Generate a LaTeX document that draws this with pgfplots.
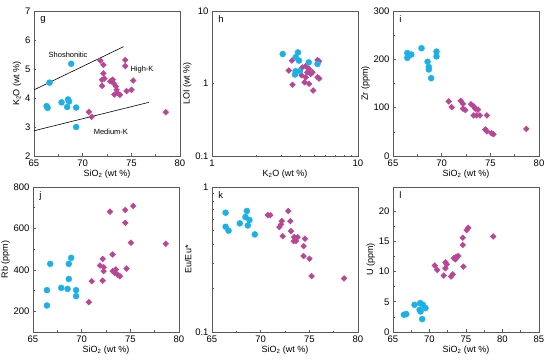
\documentclass[border=0pt]{standalone}
\usepackage{fontspec}
\setmainfont{Liberation Sans}
\usepackage{pgfplots}
\pgfplotsset{compat=1.18}
\definecolor{cblue}{RGB}{27,177,231}
\definecolor{cmag}{RGB}{184,69,150}
\definecolor{frame}{RGB}{90,90,90}
\pgfplotsset{
  panel/.style={
    scale only axis, width=146pt, height=145pt,
    anchor=south west,
    axis line style={frame, line width=0.8pt},
    tick style={frame, line width=0.6pt},
    major tick length=2.5pt, minor tick length=1.5pt,
    xtick pos=bottom, ytick pos=left,
    tick align=inside,
    /pgf/number format/assume math mode=true,
    ticklabel style={font=\fontsize{9.5}{10}\selectfont, text=black},
    label style={font=\fontsize{9}{10}\selectfont},
    xlabel style={yshift=3pt},
    ylabel style={yshift=-3pt},
    clip=false,
  },
  blue/.style={only marks, mark=*, mark size=3pt, mark options={draw=cblue, fill=cblue}},
  mag/.style={only marks, mark=square*, mark size=2.05pt, mark options={draw=cmag, fill=cmag, rotate=45}},
}
\newcommand{\panellabel}[1]{\node[anchor=north west, font=\fontsize{9.5}{10}\selectfont] at (rel axis cs:0.02,0.99) {#1};}
\begin{document}
\begin{tikzpicture}
\path[use as bounding box] (0,0) rectangle (550pt,362pt);

% g
\begin{axis}[panel, at={(34pt,206pt)}, xmin=65, xmax=80, ymin=2, ymax=7,
  xtick={65,70,75,80}, ytick={2,3,4,5,6,7}, minor x tick num=1,
  xlabel={SiO\textsubscript{2} (wt \%)}, ylabel={K\textsubscript{2}O (wt \%)}]
\addplot[black, line width=0.6pt] coordinates {(65,4.28) (74.2,5.77)};
\addplot[black, line width=0.6pt] coordinates {(65,2.87) (76.8,3.85)};
\addplot[blue] coordinates {(66.6,4.53) (68.82,5.18) (66.3,3.72) (66.4,3.66) (67.83,3.85) (68.5,3.95) (68.6,3.88) (68.41,3.69) (69.33,3.67) (69.33,3.0)};
\addplot[mag] coordinates {(71.82,5.29) (72.13,5.14) (72.13,4.85) (72.23,4.67) (71.99,4.63) (71.99,4.42) (72.84,4.58) (73.08,4.63) (73.18,4.51) (73.42,4.40) (73.49,4.28) (73.59,4.17) (73.25,4.12) (73.83,4.11) (74.38,5.31) (74.38,5.10) (74.51,4.24) (75.02,4.28) (75.19,4.60) (70.63,3.52) (70.93,3.35) (78.54,3.51)};
\node[font=\fontsize{7.5}{9}\selectfont] at (axis cs:68.5,5.49) {Shoshonitic};
\node[font=\fontsize{7.5}{9}\selectfont] at (axis cs:76.1,4.97) {High-K};
\node[font=\fontsize{7.5}{9}\selectfont] at (axis cs:72.9,2.83) {Medium-K};
\panellabel{g}
\end{axis}

% h
\begin{axis}[panel, at={(212pt,206pt)}, xmode=log, ymode=log, xmin=1, xmax=10, ymin=0.1, ymax=10,
  xtick={1,10}, xticklabels={1,10}, ytick={0.1,1,10}, yticklabels={0.1,1,10},
  xlabel={K\textsubscript{2}O (wt \%)}, ylabel={LOI (wt \%)}]
\addplot[mag] coordinates {(3.53,2.07) (3.36,1.51) (3.56,0.96) (4.16,1.67) (4.38,1.73) (4.62,1.59) (4.50,1.43) (4.75,1.36) (4.38,1.22) (4.31,1.04) (4.62,0.99) (4.93,0.80) (5.28,2.11) (5.42,2.02) (5.28,1.22) (5.42,1.17) (4.88,1.43) (4.1,1.3)};
\addplot[blue] coordinates {(3.05,2.55) (3.88,2.68) (3.74,2.30) (3.94,2.07) (4.60,1.96) (5.28,1.86) (3.74,1.48) (3.70,1.33) (4.0,1.48)};
\panellabel{h}
\end{axis}

% i
\begin{axis}[panel, at={(393pt,206pt)}, xmin=65, xmax=80, ymin=0, ymax=300,
  xtick={65,70,75,80}, ytick={0,100,200,300}, minor x tick num=1, minor y tick num=1,
  xlabel={SiO\textsubscript{2} (wt \%)}, ylabel={Zr (ppm)}]
\addplot[blue] coordinates {(66.47,213) (66.47,203) (66.64,209) (66.88,210) (67.93,223) (68.55,195) (68.68,184) (68.68,179) (68.92,161) (69.47,216) (69.47,206)};
\addplot[mag] coordinates {(70.73,113) (71.03,101) (71.96,114) (72.19,108) (72.19,98) (72.43,95) (73.01,107) (73.28,103) (73.45,98) (73.73,96) (73.28,84) (73.59,84) (73.93,84) (74.65,84) (74.48,55) (74.65,51) (75.13,47) (75.33,45) (78.7,56)};
\panellabel{i}
\end{axis}

% j
\begin{axis}[panel, at={(33pt,30pt)}, xmin=65, xmax=80, ymin=100, ymax=800,
  xtick={65,70,75,80}, ytick={200,400,600,800}, minor x tick num=1, minor y tick num=1,
  xlabel={SiO\textsubscript{2} (wt \%)}, ylabel={Rb (ppm)}]
\addplot[blue] coordinates {(66.77,429) (66.43,302) (66.43,228) (67.9,313) (68.55,308) (68.68,429) (68.92,458) (68.68,356) (69.43,302) (69.43,273)};
\addplot[mag] coordinates {(70.73,244) (71.03,345) (71.89,421) (72.16,453) (72.26,413) (72.26,394) (72.16,348) (72.91,681) (73.18,474) (73.18,394) (73.39,386) (73.52,402) (73.69,377) (73.93,369) (74.48,689) (74.48,627) (74.61,406) (75.06,531) (75.3,708) (78.64,526)};
\panellabel{j}
\end{axis}

% k
\begin{axis}[panel, at={(212pt,30pt)}, ymode=log, xmin=65, xmax=80, ymin=0.1, ymax=1,
  xtick={65,70,75,80}, ytick={0.1,1}, yticklabels={0.1,1}, minor x tick num=1,
  xlabel={SiO\textsubscript{2} (wt \%)}, ylabel={Eu/Eu*}]
\addplot[blue] coordinates {(66.40,0.665) (66.40,0.532) (66.70,0.50) (67.86,0.561) (68.58,0.683) (68.44,0.621) (68.85,0.592) (68.68,0.543) (69.40,0.471)};
\addplot[mag] coordinates {(70.73,0.64) (71.0,0.64) (72.84,0.683) (72.16,0.582) (71.92,0.529) (72.09,0.552) (72.26,0.458) (73.05,0.582) (73.11,0.496) (73.45,0.451) (73.63,0.424) (73.80,0.451) (73.39,0.424) (74.55,0.44) (74.41,0.391) (74.41,0.334) (75.02,0.32) (75.23,0.243) (78.57,0.234)};
\panellabel{k}
\end{axis}

% l
\begin{axis}[panel, at={(393pt,30pt)}, xmin=65, xmax=85, ymin=0, ymax=24,
  xtick={65,70,75,80,85}, ytick={0,5,10,15,20}, minor x tick num=1, minor y tick num=1,
  xlabel={SiO\textsubscript{2} (wt \%)}, ylabel={U (ppm)}]
\addplot[blue] coordinates {(66.5,2.86) (66.82,2.97) (67.95,4.5) (68.73,4.78) (68.64,3.68) (68.77,3.4) (69.45,3.96) (69.0,2.14) (69.1,4.5)};
\addplot[mag] coordinates {(70.73,11.0) (71.05,10.27) (71.95,9.34) (72.18,11.54) (72.36,11.2) (72.18,10.55) (72.95,9.18) (73.18,9.56) (73.32,12.2) (73.64,12.47) (73.95,12.58) (73.55,12.03) (74.55,15.6) (74.55,14.4) (74.64,10.82) (75.09,16.87) (75.32,17.25) (78.73,15.82)};
\panellabel{l}
\end{axis}
\end{tikzpicture}
\end{document}
